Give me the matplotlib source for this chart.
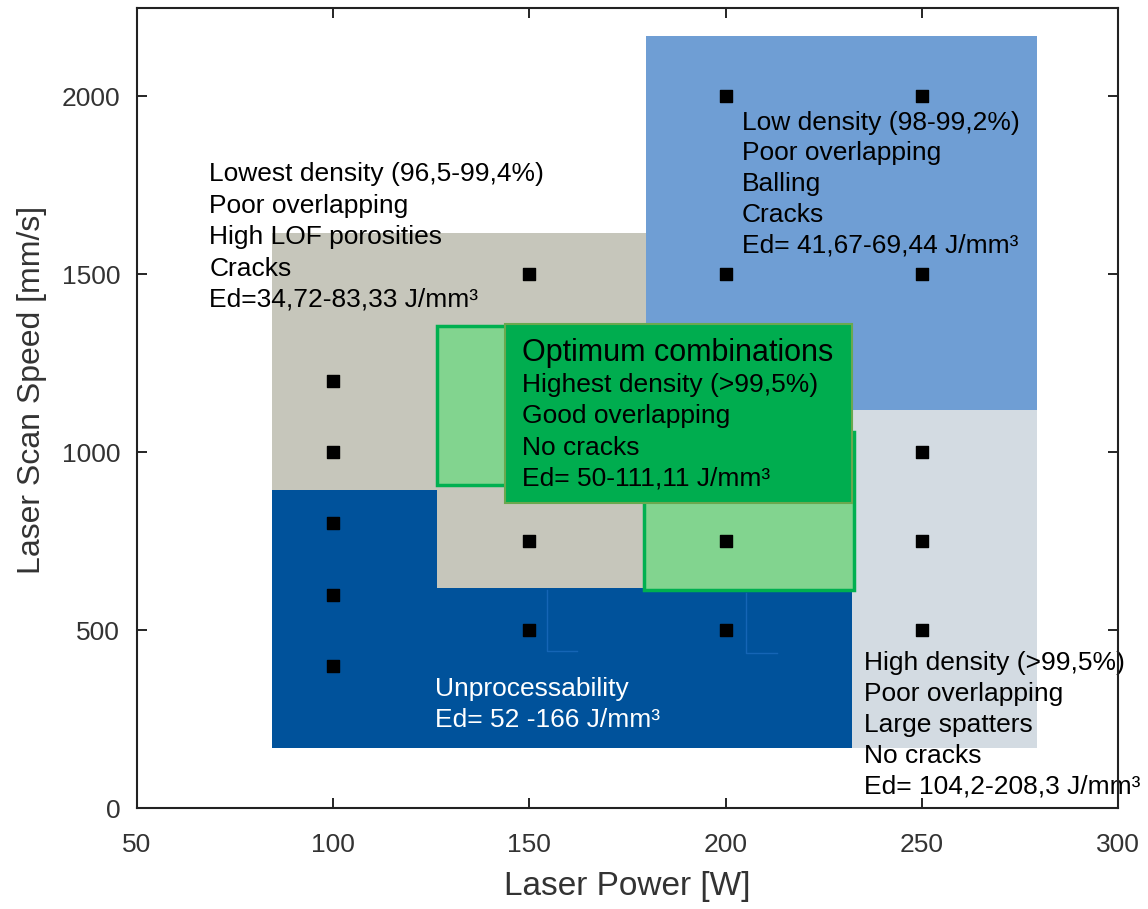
import matplotlib
matplotlib.use("Agg")
import matplotlib.pyplot as plt
from matplotlib.patches import Rectangle

# measured points (laser power W, scan speed mm/s)
power = [100, 100, 100, 100, 100, 150, 150, 150, 200, 200, 200, 200, 250, 250, 250, 250, 250]
speed = [400, 600, 800, 1000, 1200, 500, 750, 1500, 500, 750, 1500, 2000, 500, 750, 1000, 1500, 2000]

# process windows: (P min, P max, v min, v max)
unproc_win = (84.4, 232.1, 169, 893)
lowest_win = [(84.4, 179.6, 893, 1615), (126.5, 179.6, 618, 893)]
low_win = (179.6, 279.3, 1118, 2169)
high_win = (232.1, 279.3, 169, 1118)
opt_win = [(126.5, 145.0, 907, 1354), (179.1, 232.6, 612, 1056)]
opt_label_box = (143.9, 232.1, 857, 1360)

xticks = [50, 100, 150, 200, 250, 300]
yticks = [0, 500, 1000, 1500, 2000]

txt_lowest = "Lowest density (96,5-99,4%)\nPoor overlapping\nHigh LOF porosities\nCracks\nEd=34,72-83,33 J/mm³"
txt_low = "Low density (98-99,2%)\nPoor overlapping\nBalling\nCracks\nEd= 41,67-69,44 J/mm³"
txt_opt_title = "Optimum combinations"
txt_opt = "Highest density (>99,5%)\nGood overlapping\nNo cracks\nEd= 50-111,11 J/mm³"
txt_unproc = "Unprocessability\nEd= 52 -166 J/mm³"
txt_high = "High density (>99,5%)\nPoor overlapping\nLarge spatters\nNo cracks\nEd= 104,2-208,3 J/mm³"

plt.rcParams['font.family'] = ['Liberation Sans', 'DejaVu Sans']

fig = plt.figure(figsize=(11.48, 9.09), dpi=100)
ax = fig.add_axes([0.1193, 0.1111, 0.8547, 0.8806])


def box(ax, w, **kw):
    ax.add_patch(Rectangle((w[0], w[2]), w[1] - w[0], w[3] - w[2], **kw))


box(ax, unproc_win, facecolor='#00529b', edgecolor='none', zorder=1)
for w in lowest_win:
    box(ax, w, facecolor='#c6c6bb', edgecolor='none', zorder=2)
box(ax, low_win, facecolor='#6f9ed4', edgecolor='none', zorder=2)
box(ax, high_win, facecolor='#d3dbe2', edgecolor='none', zorder=2)
for w in opt_win:
    box(ax, w, facecolor='#82d48f', edgecolor='#00b050', linewidth=2.5, zorder=3)
box(ax, opt_label_box, facecolor='#00ad4f', edgecolor='#6aa84f', linewidth=1.5, zorder=5)

# small stray marks seen inside the blue area
ax.plot([154.6, 154.6, 162.2], [613, 441, 441], color='#1565b5', lw=1, zorder=2)
ax.plot([205.1, 205.1, 213.2], [603, 437, 437], color='#1565b5', lw=1, zorder=2)

ax.scatter(power, speed, marker='s', s=85, color='black', zorder=4)

ax.text(68.4, 1815, txt_lowest, fontsize=19, linespacing=1.39, va='top', ha='left', zorder=6)
ax.text(204.1, 1960, txt_low, fontsize=19, linespacing=1.35, va='top', ha='left', zorder=6)
ax.text(148.0, 1320, txt_opt_title, fontsize=22, va='top', ha='left', zorder=6)
ax.text(148.0, 1222, txt_opt, fontsize=19, linespacing=1.38, va='top', ha='left', zorder=6)
ax.text(126.0, 368, txt_unproc, fontsize=19, linespacing=1.38, va='top', ha='left',
        color='white', zorder=6)
ax.text(235.2, 442, txt_high, fontsize=19, linespacing=1.37, va='top', ha='left',
        zorder=6, clip_on=False)

ax.set_xlim(50, 300)
ax.set_ylim(0, 2250)
ax.set_xticks(xticks)
ax.set_yticks(yticks)
ax.tick_params(direction='in', length=7, width=1.2, top=True, right=True,
               labelsize=19, labelcolor='#333333', pad=12)
ax.tick_params(axis='x', pad=18)
for s in ax.spines.values():
    s.set_linewidth(1.5)
    s.set_color('#222222')
    s.set_zorder(7)

ax.set_xlabel("Laser Power [W]", fontsize=24, color='#333333')
ax.set_ylabel("Laser Scan Speed [mm/s]", fontsize=23, color='#333333')
ax.xaxis.set_label_coords(0.5, -0.079)
ax.yaxis.set_label_coords(-0.092, 0.522)

fig.savefig("out.png", dpi=100)
